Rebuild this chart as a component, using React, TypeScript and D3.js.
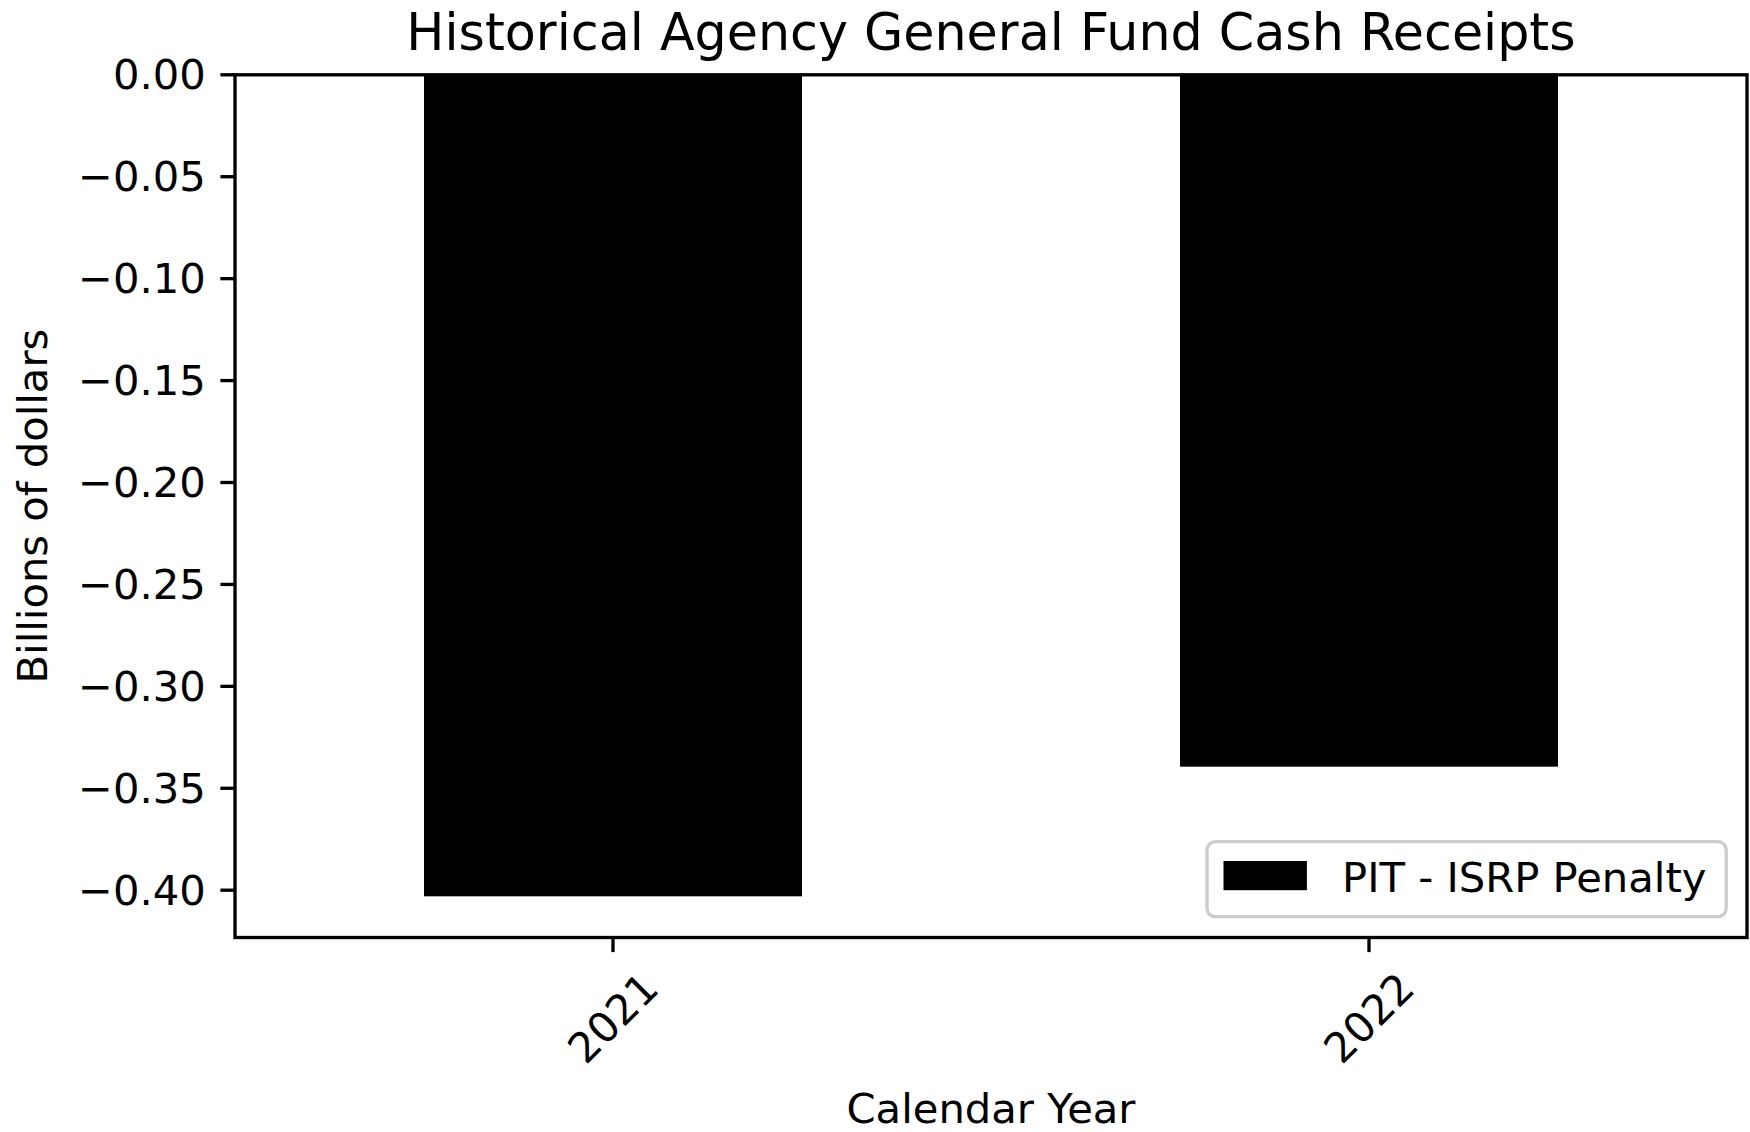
import React from "react";
import * as d3 from "d3";

const years = ["2021", "2022"];
const penaltyValues = [-0.403, -0.3394];
const yTickValues = [0, -0.05, -0.1, -0.15, -0.2, -0.25, -0.3, -0.35, -0.4];
const seriesName = "PIT - ISRP Penalty";
const titleText = "Historical Agency General Fund Cash Receipts";
const xLabelText = "Calendar Year";
const yLabelText = "Billions of dollars";

const W = 1750;
const H = 1132;
const L = 235;
const R = 1747;
const T = 74.8;
const B = 937.5;
const FONT = "'DejaVu Sans', sans-serif";
const FS = 41.7;
const LW = 3.33;
const TICK = 14.6;
const PAD = 14.6;

export default function App() {
  const x = d3.scaleBand<string>().domain(years).range([L, R]).paddingInner(0.5).paddingOuter(0.25);
  const y = d3.scaleLinear().domain([-0.4232, 0]).range([B, T]);
  const fmt = d3.format(".2f");

  const legR = R - 20.8;
  const legB = B - 20.8;
  const legL = 1207;
  const legT = 841.7;
  const yLabX = 47;

  return (
    <svg width={W} height={H} style={{ position: "absolute", left: 0, top: 0, background: "#fff" }} fontFamily={FONT}>
      <rect x={0} y={0} width={W} height={H} fill="#fff" />
      {years.map((yr, i) => {
        const v = penaltyValues[i];
        return (
          <rect
            key={yr}
            x={x(yr)}
            y={y(0)}
            width={x.bandwidth()}
            height={y(v) - y(0)}
            fill="#000"
          />
        );
      })}
      <rect x={L} y={T} width={R - L} height={B - T} fill="none" stroke="#000" strokeWidth={LW} strokeLinejoin="miter" />
      {yTickValues.map((t) => (
        <g key={t}>
          <line x1={L - TICK} x2={L} y1={y(t)} y2={y(t)} stroke="#000" strokeWidth={LW} />
          <text x={L - TICK - PAD} y={y(t)} textAnchor="end" dominantBaseline="central" fontSize={FS} fill="#000">
            {fmt(t === 0 ? 0 : t)}
          </text>
        </g>
      ))}
      {years.map((yr) => {
        const cx = (x(yr) as number) + x.bandwidth() / 2;
        const cy = 1018;
        return (
          <g key={yr}>
            <line x1={cx} x2={cx} y1={B} y2={B + TICK} stroke="#000" strokeWidth={LW} />
            <text
              x={cx}
              y={cy}
              textAnchor="middle"
              dominantBaseline="central"
              fontSize={FS}
              fill="#000"
              transform={`rotate(-45 ${cx} ${cy})`}
            >
              {yr}
            </text>
          </g>
        );
      })}
      <text x={(L + R) / 2} y={50} textAnchor="middle" fontSize={50.7} fill="#000">
        {titleText}
      </text>
      <text x={(L + R) / 2} y={1123} textAnchor="middle" fontSize={FS} fill="#000">
        {xLabelText}
      </text>
      <text
        x={yLabX}
        y={(T + B) / 2}
        textAnchor="middle"
        fontSize={FS}
        fill="#000"
        transform={`rotate(-90 ${yLabX} ${(T + B) / 2})`}
      >
        {yLabelText}
      </text>
      <rect
        x={legL}
        y={legT}
        width={legR - legL}
        height={legB - legT}
        rx={8.3}
        ry={8.3}
        fill="#fff"
        fillOpacity={0.8}
        stroke="#cccccc"
        strokeWidth={LW}
      />
      <rect x={1223.5} y={861} width={83.4} height={29.2} fill="#000" />
      <text x={1342} y={891.7} fontSize={FS} fill="#000">
        {seriesName}
      </text>
    </svg>
  );
}
